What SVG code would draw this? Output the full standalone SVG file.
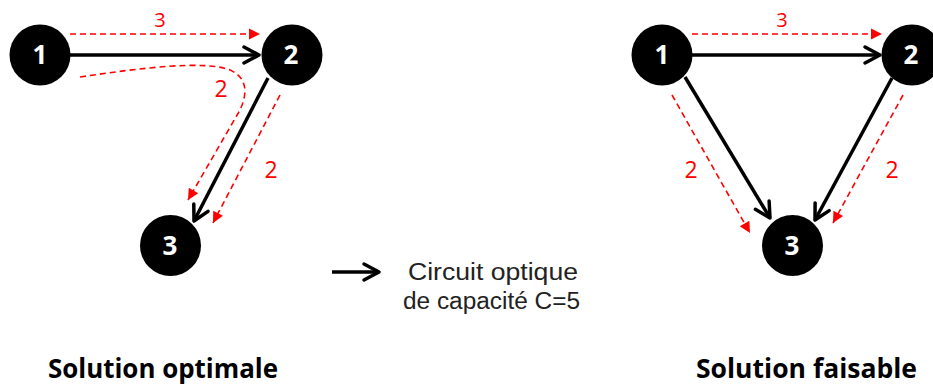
<svg xmlns="http://www.w3.org/2000/svg" width="933" height="387" viewBox="0 0 933 387">
<defs>
<style>
.node{fill:#000}
.num{fill:#fff;font-family:"Open Sans","Liberation Sans",sans-serif;font-weight:bold;font-size:26px;text-anchor:middle}
.blk{stroke:#000;stroke-width:3.5;fill:none;marker-end:url(#chev)}
.red{stroke:#f00;stroke-width:1.6;stroke-dasharray:6 4;fill:none;marker-end:url(#tri)}
.rlab{fill:#f00;font-family:"Open Sans","Liberation Sans",sans-serif;font-size:23px;text-anchor:middle}
.leg{fill:#222;font-family:"Liberation Sans","Open Sans",sans-serif;font-size:23px}
.title{fill:#000;font-family:"Open Sans","Liberation Sans",sans-serif;font-weight:bold;font-size:26px}
</style>
<marker id="chev" markerUnits="userSpaceOnUse" markerWidth="24" markerHeight="24" viewBox="-20 -12 24 24" refX="0" refY="0" orient="auto">
<path d="M-15,-8 L0,0 L-15,8" fill="none" stroke="#000" stroke-width="3.5" stroke-linejoin="round" stroke-linecap="round"/>
</marker>
<marker id="tri" markerUnits="userSpaceOnUse" markerWidth="14" markerHeight="14" viewBox="-12 -7 14 14" refX="0" refY="0" orient="auto">
<path d="M-11,-5.5 L0,0 L-11,5.5 Z" fill="#f00"/>
</marker>
</defs>
<rect width="933" height="387" fill="#fff"/>
<g id="connectors">
<path class="blk" d="M70,55 L259,55"/>
<path class="blk" d="M268,78 L194,221"/>
<path class="red" d="M70,34 L260,34"/>
<path class="red" d="M80,77 C140,68 205,60 230,70 C250,79 246,97 240,110 L188,200"/>
<path class="red" d="M280,95 L213,223"/>
<path class="red" d="M692,34 L882,34"/>
<path class="blk" d="M692,55 L880,55"/>
<path class="blk" d="M685,77 L770,218"/>
<path class="red" d="M672,95 L750,233"/>
<path class="blk" d="M892,78 L815,220"/>
<path class="red" d="M903,95 L833,223"/>
<path class="blk" d="M332,272 L379,272"/>
</g>
<g id="labels">
<text class="rlab" x="160" y="27" style="font-size:20px">3</text>
<text class="rlab" x="221" y="97">2</text>
<text class="rlab" x="271" y="178">2</text>
<text class="rlab" x="782" y="27" style="font-size:20px">3</text>
<text class="rlab" x="691" y="178">2</text>
<text class="rlab" x="892" y="178">2</text>
</g>
<g id="node-L1"><circle class="node" cx="40" cy="55" r="30.5"/><text class="num" x="40" y="64">1</text></g>
<g id="node-L2"><circle class="node" cx="292" cy="55" r="30.5"/><text class="num" x="291" y="64">2</text></g>
<g id="node-L3"><circle class="node" cx="170.5" cy="245.5" r="30.5"/><text class="num" x="170" y="254.5">3</text></g>
<g id="node-R1"><circle class="node" cx="662" cy="55" r="30.5"/><text class="num" x="662" y="64">1</text></g>
<g id="node-R2"><circle class="node" cx="912" cy="55" r="30.5"/><text class="num" x="911" y="64">2</text></g>
<g id="node-R3"><circle class="node" cx="792.5" cy="245.5" r="30.5"/><text class="num" x="792" y="254.5">3</text></g>
<g id="legend">
<text class="leg" x="408" y="280" textLength="170" lengthAdjust="spacingAndGlyphs">Circuit optique</text>
<text class="leg" x="403" y="309" textLength="177" lengthAdjust="spacingAndGlyphs">de capacité C=5</text>
</g>
<g id="titles">
<text class="title" x="48" y="378" textLength="230" lengthAdjust="spacingAndGlyphs">Solution optimale</text>
<text class="title" x="696" y="378" textLength="221" lengthAdjust="spacingAndGlyphs">Solution faisable</text>
</g>
</svg>
